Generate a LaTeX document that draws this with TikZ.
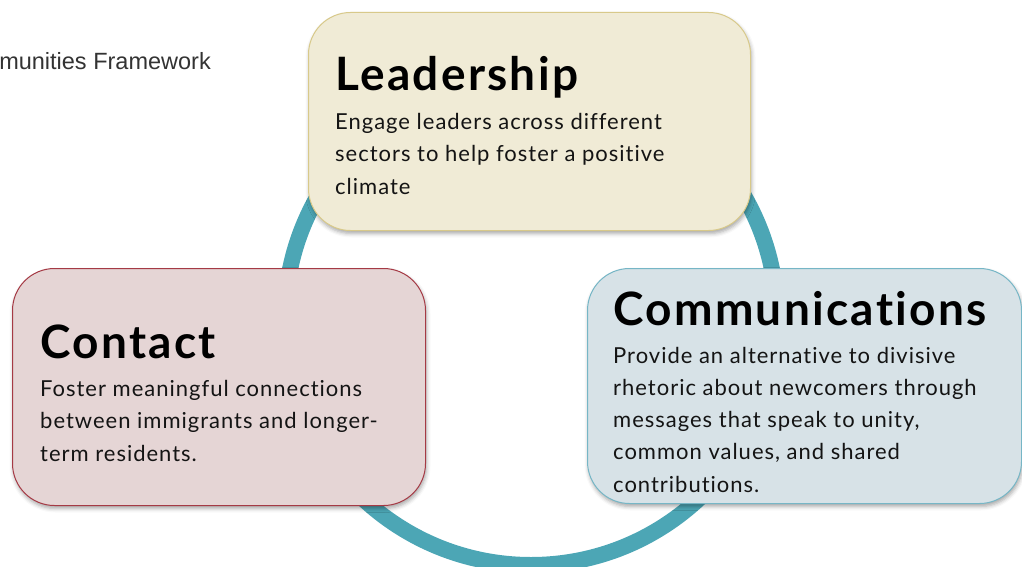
\documentclass[tikz,border=0pt]{standalone}
\usepackage{fontspec}
\setmainfont{Lato}[Ligatures=NoCommon]
\newfontfamily\hdrfont{Liberation Sans}
\newfontfamily\ttlfont{Lato}[Ligatures=NoCommon, LetterSpace=5, BoldFont={Lato Bold}]
\newfontfamily\bodyfont{Lato}[Ligatures=NoCommon, LetterSpace=4.5]
\usetikzlibrary{shadows.blur}
\definecolor{ring}{HTML}{4CA6B5}
\definecolor{leadfill}{HTML}{F0EBD6}
\definecolor{leaddraw}{HTML}{D8C98A}
\definecolor{contfill}{HTML}{E5D5D5}
\definecolor{contdraw}{HTML}{A53A45}
\definecolor{commfill}{HTML}{D7E2E7}
\definecolor{commdraw}{HTML}{76B6C6}
\definecolor{hdr}{HTML}{333333}
\tikzset{
  box/.style={rectangle, rounded corners=42pt, line width=1pt, inner sep=0pt, anchor=north west,
    blur shadow={shadow xshift=1pt, shadow yshift=-3pt, shadow blur radius=4pt, shadow opacity=35}},
  ttl/.style={anchor=base west, inner sep=0pt, font=\ttlfont\fontsize{46}{50}\selectfont\bfseries, text=black},
  bodyline/.style={anchor=base west, inner sep=0pt, font=\bodyfont\fontsize{22}{26}\selectfont, text=black!92}
}
\begin{document}
\begin{tikzpicture}[x=1pt,y=-1pt]
\useasboundingbox (0,0) rectangle (1022,567);
\clip (0,0) rectangle (1022,567);
\node (hdr) [anchor=base east, inner sep=0pt, font=\hdrfont\fontsize{23.5}{27}\selectfont, text=hdr] at (211,70) {munities Framework};
% ring
\draw[ring, line width=16pt] (531,319) circle (246);
% boxes
\node (lead) [box, fill=leadfill, draw=leaddraw, minimum width=442pt, minimum height=218pt] at (308,12) {};
\node (cont) [box, fill=contfill, draw=contdraw, minimum width=413pt, minimum height=237pt] at (12,268) {};
\node (comm) [box, fill=commfill, draw=commdraw, minimum width=434pt, minimum height=235pt] at (587,268) {};
% titles
\node (leadt) [ttl] at (335,90.5) {Leadership};
\node (contt) [ttl] at (40,358) {Contact};
\node (commt) [ttl] at (613,325) {Communications};
% body lines
\foreach \t [count=\i] in {{Engage leaders across different},{sectors to help foster a positive},{climate}}
  \node (leadb\i) [bodyline] at (335,{129+32.5*(\i-1)}) {\t};
\foreach \t [count=\i] in {{Foster meaningful connections},{between immigrants and longer-},{term residents.}}
  \node (contb\i) [bodyline] at (40,{396+32.5*(\i-1)}) {\t};
\foreach \t [count=\i] in {{Provide an alternative to divisive},{rhetoric about newcomers through},{messages that speak to unity,},{common values, and shared},{contributions.}}
  \node (commb\i) [bodyline] at (613,{363+32.3*(\i-1)}) {\t};
\end{tikzpicture}
\end{document}
